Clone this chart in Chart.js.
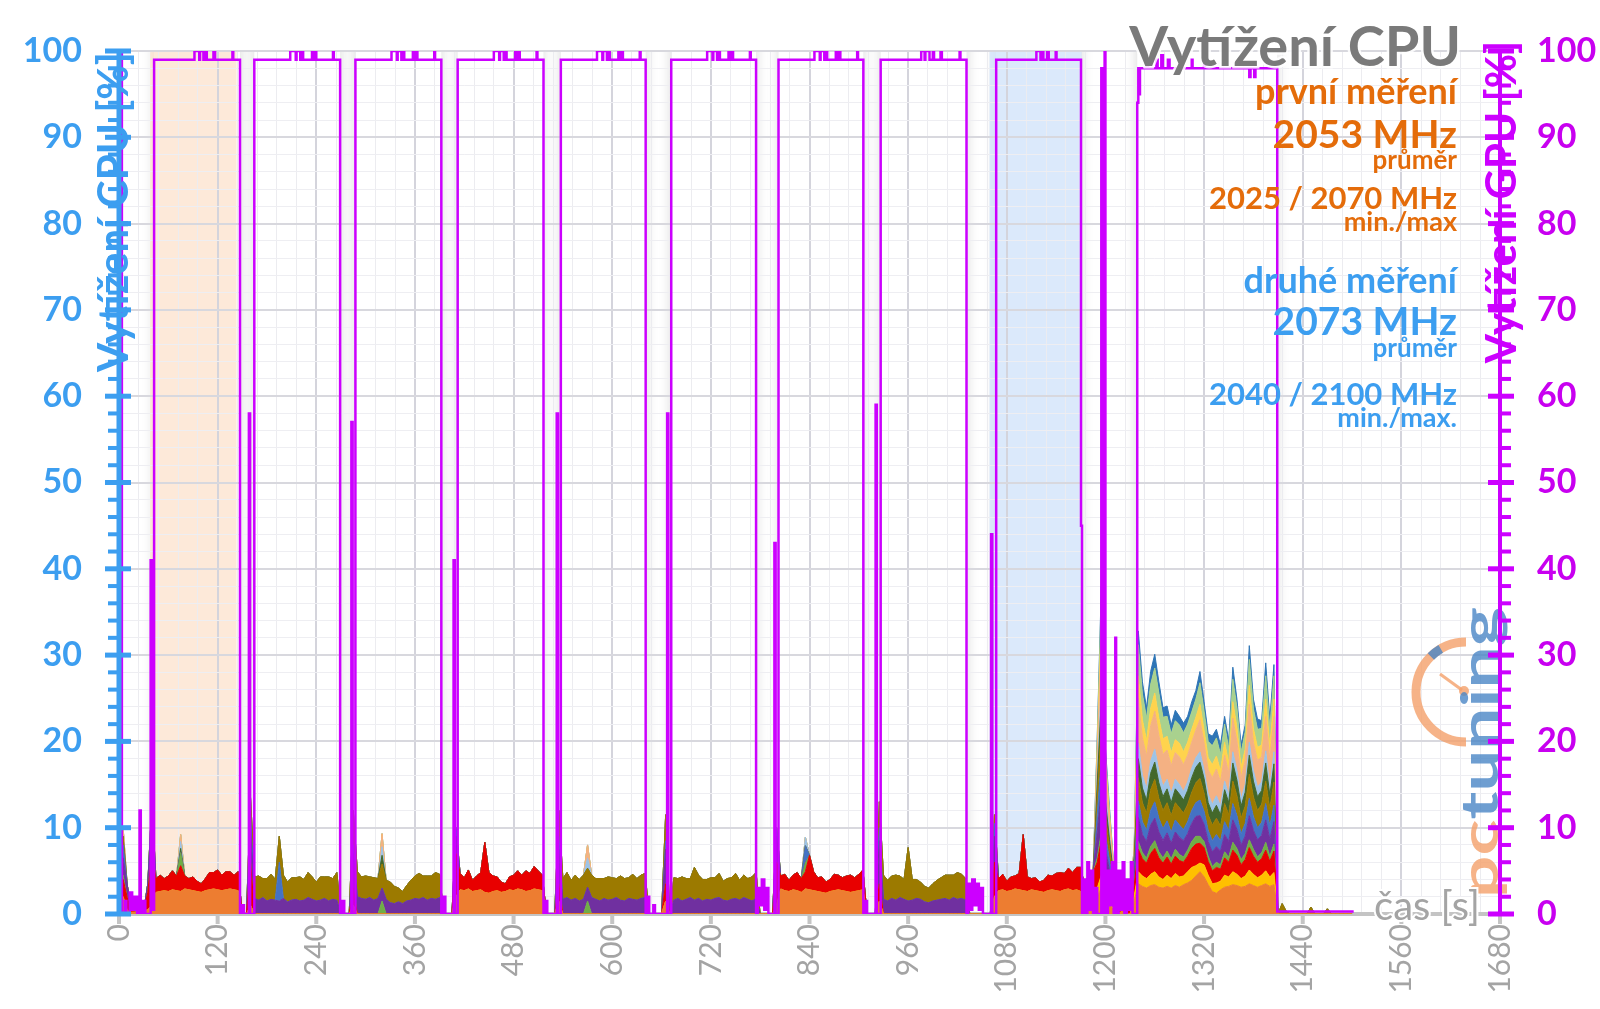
<!DOCTYPE html>
<html>
<head>
<meta charset="utf-8">
<script src="https://cdn.jsdelivr.net/npm/chart.js@4.4.1/dist/chart.umd.min.js"></script>
<style>
  html, body { margin: 0; padding: 0; background: #fff; }
  canvas { display: block; }
</style>
</head>
<body>
<canvas id="cpu-chart" width="1600" height="1009" style="width:1600px;height:1009px"></canvas>
<script>
// --- data -------------------------------------------------------------
// CPU samples every 5 s (0 .. 1500 s)
const timeGrid = [];
for (let t = 0; t <= 1500; t += 5) timeGrid.push(t);

// [start time, values...] segments, everything else is 0
const cpuOrange = [
  [0, [0.5, 2.0, 0.4, 0.2, 0.2, 0.3, 0.3, 0.5, 1.0]],
  [45, [2.5,2.6,2.7,2.6,2.8,2.7,2.6,2.9,2.8,2.7,2.6,2.5,2.7,2.8,2.9,2.8,2.7,2.8,2.9,2.8,2.7]],
  [160, [1.0]], [285, [1.0]],
  [410, [2.0, 2.8,2.7,2.9,2.6,2.7,2.8,2.5,2.4,2.6,2.7,2.5,2.6,2.8,2.7,2.9,2.8,2.6,2.7,2.9,2.8,2.7]],
  [535, [1.5]], [665, [1.5]],
  [800, [1.0, 2.9,2.7,2.6,2.8,2.7,2.5,2.9,2.8,2.7,2.6,2.5,2.4,2.6,2.7,2.8,2.7,2.6,2.5,2.6,2.7,2.8]],
  [925, [1.5]],
  [1065, [2.0, 2.7,2.8,2.6,2.7,2.9,2.8,2.7,2.6,2.8,2.7,2.6,2.5,2.7,2.8,2.7,2.6,2.8,2.9,2.7,2.8,2.6]],
  [1175, [0.5,0.3,0.8,2.0,3.0,1.5,1.0,0.5,0,0.3,0,0,1.5]],
  [1240, [3.5,3.2,3.0,3.3,3.4,3.1,3.0,3.2,3.0,3.3,3.1,3.4,3.6,3.9,4.4,4.9,4.3,3.4,2.6,2.4,2.8,3.1,3.2,3.4,3.3,3.1,3.2,3.5,3.3,3.1,3.3,3.5,3.2,3.4]]
];
const cpuYellow = [
  [1175, [0,0,0.5,1.0,1.5,0.8,0.5,0,0,0,0,0,0.6]],
  [1240, [1.4,1.2,1.1,1.3,1.5,1.2,1.0,1.3,1.1,1.4,1.2,1.0,1.3,1.5,1.2,1.0,1.4,1.1,0.9,1.2,1.0,1.4,1.1,1.5,1.3,1.0,1.2,1.6,1.3,1.1,1.2,1.5,1.1,1.4]]
];
const cpuRed = [
  [0, [0.5, 2.0, 1.5, 0.2, 0, 0.2, 0, 2.0, 6.0]],
  [45, [1.6,1.9,1.4,1.8,2.2,1.7,3.0,1.5,1.3,1.6,1.2,1.0,1.4,2.0,1.9,2.3,1.8,2.1,2.0,1.7,2.2]],
  [160, [5.0]], [285, [2.0]],
  [410, [5.0, 1.9,1.5,2.2,1.3,1.7,2.0,5.8,2.4,1.8,1.6,1.2,0.9,1.5,1.8,2.1,1.7,2.4,2.0,2.6,2.2,1.8]],
  [535, [2.0]], [665, [2.0]],
  [800, [5.0, 1.5,1.9,1.3,1.7,2.1,1.6,2.0,4.0,2.2,1.6,1.8,1.3,1.4,1.9,1.7,1.5,1.8,2.0,1.6,1.9,2.3]],
  [925, [2.0]],
  [1065, [4.0, 1.4,1.8,1.2,1.6,1.5,1.9,6.5,1.7,1.3,1.5,1.1,1.4,1.8,1.6,2.0,2.2,1.9,2.4,2.1,2.6,2.8]],
  [1175, [2.5,1.5,3.5,3.0,4.0,2.2,1.5,1.0,0.6,1.0,0.4,0.6,1.2]],
  [1240, [2.6,2.0,1.8,2.4,2.7,2.2,1.9,2.1,1.7,2.0,1.9,1.6,1.8,2.2,2.5,2.3,2.0,1.6,1.5,1.8,1.4,2.0,1.7,2.5,2.2,1.6,1.9,2.6,2.1,1.8,1.9,2.4,1.8,2.5]]
];
const cpuGreen = [
  [5, [0.5]], [40, [0.5]], [75, [1.5]], [320, [1.5]], [570, [1.5]], [835, [1.0]],
  [1175, [0,0,0,0.5,1.0,0.5,0.4,0,0,0,0,0,0]],
  [1240, [0.9,0.7,0.6,0.8,0.9,0.7,0.6,0.7,0.6,0.8,0.7,0.6,0.7,0.8,0.9,0.8,0.7,0.6,0.5,0.6,0.5,0.7,0.6,0.9,0.8,0.6,0.7,0.9,0.8,0.6,0.7,0.9,0.6,0.8]]
];
const cpuPurple = [
  [0, [0, 2.0, 1.5, 0, 0, 0, 0, 1.0, 4.0]],
  [160, [4.0, 1.8,1.6,1.9,1.5,1.7,1.6,1.5,1.8,1.4,1.6,1.7,1.5,1.6,1.9,1.7,1.5,1.6,1.8,1.5,1.7,1.6]],
  [285, [4.0, 2.0,1.8,1.7,1.9,1.6,1.8,1.5,1.7,1.3,1.2,1.4,1.2,1.5,1.6,1.8,1.7,1.9,1.6,1.8,1.7,1.9]],
  [410, [2.0]],
  [535, [4.0, 1.7,1.9,1.6,1.8,1.5,1.7,1.6,1.9,1.7,1.5,1.8,1.6,1.7,1.9,1.6,1.5,1.8,1.7,1.6,1.8,1.9]],
  [665, [4.0]],
  [675, [1.6,1.8,1.5,1.7,1.9,1.6,1.8,1.5,1.7,1.6,1.8,1.9,1.6,1.5,1.7,1.8,1.6,1.9,1.7,1.5,1.8]],
  [800, [3.0]],
  [925, [5.0, 1.7,1.5,1.8,1.6,1.9,1.7,1.5,1.6,1.8,1.7,1.4,1.3,1.5,1.6,1.7,1.8,1.6,1.9,1.7,1.8,1.6]],
  [1065, [3.0]],
  [1175, [0,1.0,0,3.0,5.0,2.5,1.6,0.9,0.5,0.6,0.3,0.5,1.0]],
  [1240, [2.8,2.1,1.9,2.5,2.6,2.3,2.0,2.1,1.8,2.0,2.0,1.9,1.9,2.1,2.3,2.4,2.0,1.7,1.7,1.8,1.6,2.0,1.8,2.6,2.2,1.7,2.0,2.8,2.2,2.0,2.0,2.6,2.0,2.6]]
];
const cpuBlue = [
  [5, [1.5]], [40, [1.5]], [160, [1.5]], [195, [4.5]], [285, [1.0]], [410, [1.0]],
  [535, [1.5]], [665, [1.0]], [800, [1.0]], [835, [2.0]], [925, [1.5]], [1065, [1.5]],
  [1175, [0,0,0,2.0,3.5,1.8,1.2,0.7,0,0,0,0,0.7]],
  [1240, [1.9,1.5,1.3,1.7,1.9,1.6,1.4,1.4,1.3,1.4,1.4,1.3,1.4,1.5,1.6,1.8,1.5,1.3,1.3,1.4,1.2,1.5,1.3,1.9,1.6,1.3,1.5,2.0,1.6,1.4,1.5,1.9,1.5,1.9]]
];
const cpuOlive = [
  [5, [1.0]],
  [160, [2.0, 2.5,2.8,2.2,2.6,2.9,2.4,3.0,2.7,2.3,2.6,2.5,2.8,2.4,2.9,2.6,2.2,2.7,2.5,2.8,2.4,3.2]],
  [285, [4.0, 2.9,2.5,2.7,2.4,2.6,2.3,2.8,2.2,2.4,2.0,1.6,1.4,1.8,2.3,2.6,3.0,2.5,2.8,2.6,3.1,2.7]],
  [535, [3.0, 2.4,2.9,2.3,2.7,2.5,2.8,2.2,2.6,2.4,2.6,2.3,2.7,2.5,2.2,2.8,2.6,2.4,2.9,2.5,2.7,2.8]],
  [665, [3.0]],
  [675, [2.6,2.3,2.8,2.4,2.2,3.8,2.7,2.5,2.3,2.6,2.4,2.8,2.2,2.6,2.5,2.9,2.3,2.6,2.4,2.8,3.0]],
  [925, [3.0, 2.8,2.4,2.6,2.9,2.5,2.3,6.2,2.4,2.2,2.0,1.8,1.7,2.0,2.3,2.5,2.7,2.9,2.6,3.1,2.8,2.5]],
  [1065, [1.0]],
  [1175, [0,0,0,2.0,4.0,2.2,1.4,0.8,0.4,0.6,0,0.5,1.0]],
  [1240, [2.7,2.2,2.0,2.4,2.6,2.3,2.1,2.1,1.9,2.0,2.0,1.9,2.0,2.1,2.3,2.5,2.1,1.8,1.8,1.9,1.7,2.1,1.8,2.6,2.3,1.8,2.0,2.8,2.3,2.0,2.1,2.6,2.0,2.7]],
  [1415, [1.2, 0.3]], [1450, [0.8]], [1470, [0.6]]
];
const cpuDarkGreen = [
  [75, [0.5]], [320, [1.0]],
  [1175, [0,0,0,1.5,3.0,1.6,1.0,0.6,0,0,0,0,0.7]],
  [1240, [2.2,1.7,1.5,1.9,2.0,1.8,1.6,1.6,1.5,1.6,1.6,1.5,1.6,1.7,1.8,1.9,1.7,1.4,1.4,1.5,1.3,1.6,1.4,2.1,1.8,1.4,1.6,2.2,1.8,1.6,1.6,2.1,1.6,2.1]]
];
const cpuLightBlue = [
  [75, [0.8]], [320, [1.0]], [570, [1.2]], [835, [1.0]],
  [1175, [0,0,0,1.0,2.0,1.0,0.6,0,0,0,0,0,0]],
  [1240, [1.8,1.5,1.3,1.4,1.5,1.4,1.2,1.1,1.1,1.1,1.1,1.0,1.0,1.1,1.1,1.2,1.0,1.0,1.0,1.1,1.0,1.0,0.9,1.3,1.1,0.8,0.9,1.5,1.2,1.1,1.0,1.4,1.0,1.4]]
];
const cpuSalmon = [
  [5, [1.0]], [75, [0.8]], [320, [1.5]], [570, [1.5]],
  [1175, [0,0,0,2.0,5.0,2.5,1.5,0.8,0.3,0.4,0,0.4,1.0]],
  [1240, [5.2,4.3,3.8,4.1,4.4,4.1,3.7,3.4,3.2,3.1,3.2,3.1,3.1,3.0,3.2,3.7,3.1,2.8,3.1,3.1,2.8,3.0,2.5,3.9,3.4,2.5,2.8,4.4,3.3,3.1,2.9,4.0,3.1,4.1]]
];
const cpuGold = [
  [1175, [0,0,0,1.0,2.0,1.0,0.6,0,0,0,0,0,0]],
  [1240, [2.6,2.1,1.8,2.0,2.1,2.0,1.8,1.6,1.5,1.5,1.6,1.5,1.5,1.5,1.5,1.8,1.5,1.4,1.5,1.5,1.3,1.5,1.2,1.9,1.6,1.2,1.3,2.2,1.6,1.5,1.4,2.0,1.5,2.0]]
];
const cpuLightGreen = [
  [1175, [0,0,0,1.0,3.0,1.2,0.6,0.4,0,0,0,0,0]],
  [1240, [3.6,3.0,2.6,2.8,2.9,2.9,2.5,2.3,2.2,2.2,2.1,2.2,2.1,2.0,2.1,2.5,2.2,1.9,2.2,2.1,1.9,2.1,1.6,2.6,2.3,1.7,2.0,3.0,2.3,2.1,1.9,2.7,2.1,2.7]]
];
const cpuSteelBlue = [
  [1175, [0,0,0,0.5,1.0,0.5,0.3,0,0,0,0,0,0]],
  [1240, [1.6,1.4,1.2,1.5,1.6,1.3,1.1,1.2,1.0,1.2,1.0,1.1,0.9,1.2,1.0,1.3,1.1,0.9,1.1,1.0,1.1,0.9,1.0,1.4,1.0,0.9,0.8,1.6,1.1,1.2,0.9,1.5,1.1,1.3]]
];

// GPU load: [time s, value %] – value holds until the next point
const gpuLoad = [
  [0,100],[3.5,0],[7,1.5],[9,0],[13,2.5],[16,0.5],[19,2],[22,0],[25,12],[26.5,0],[29,1.5],[32,0],[38.5,41],[40,0.5],
  [42.7,99],[91.8,100],[97.6,99],[98.6,100],[102.7,99],[104.8,100],[106.8,99],[114.9,100],[116.9,99],[138,100],[139,99],[147.2,0],
  [150,1],[152,0],[158,58],[159.5,0],
  [164.6,99],[208.3,100],[215,99],[216,100],[220.5,99],[222.6,100],[224,99],[234.8,100],[236,99],[238.8,100],[240,99],[260.3,100],[261.3,99],[269,0],
  [272,1.5],[274,0],[282.7,57],[284.2,0],
  [287.6,99],[331.5,100],[338,99],[339,100],[343.5,99],[345.5,100],[347,99],[357.5,100],[359,99],[361.5,100],[363,99],[383.5,100],[384.5,99],[392.1,0],
  [395,2],[397,0],[407,41],[408.5,0],
  [412,99],[456,100],[462.5,99],[463.5,100],[468,99],[470,100],[471.5,99],[482,100],[483.5,99],[486,100],[487.5,99],[508,100],[509,99],[516.4,0],
  [519,1.5],[521,0],[532.5,58],[534,0],
  [537.5,99],[581.5,100],[588,99],[589,100],[593.5,99],[595.5,100],[597,99],[607.5,100],[609,99],[611.5,100],[613,99],[633.5,100],[634.5,99],[640.7,0],
  [643,2],[645,0],[650,1],[652,0],[666.8,58],[668.3,0],
  [671.8,99],[715.5,100],[722,99],[723,100],[727.5,99],[729.5,100],[731,99],[741.5,100],[743,99],[745.5,100],[747,99],[767.5,100],[768.5,99],[775,0],
  [777,3],[780,1],[782,4],[785,0.5],[787,3],[790,0],[797.3,43],[798.8,0],
  [802.3,99],[846,100],[852.5,99],[853.5,100],[858,99],[860,100],[861.5,99],[872,100],[873.5,99],[876,100],[877.5,99],[898,100],[899,99],[905.5,0],
  [908,1.5],[910,0],[920.4,59],[921.9,0],
  [926.6,99],[975.9,100],[980,99],[981,100],[986,99],[990,100],[991.5,99],[999.4,100],[1001,99],[1022.6,100],[1023.6,99],[1031,0],
  [1033,3.5],[1036,0.5],[1038,4],[1041,1],[1043,3.5],[1046,0.5],[1048,3],[1051,0],[1060.9,44],[1062.4,0],
  [1067.1,99],[1116,100],[1121,99],[1122,100],[1124.5,99],[1129,100],[1131,99],[1139.5,100],[1140.5,99],[1170.3,45],[1171.5,0],
  [1174,4],[1176,0],[1178,6],[1180,0.5],[1183,5],[1185,0],[1188,3],[1190,0],[1195,98],[1196,0],[1199,100],[1200,0],
  [1203,5],[1205,1],[1208,6],[1210,0],[1212,32],[1213,0],[1216,5],[1218,0.5],[1221,6],[1223,0],[1226,4],[1228,0.5],[1231,6],[1233,0],
  [1238.7,94],[1240,98],[1241,95],[1242,98],[1250,99],[1252,98],[1262,99],[1263.5,98],[1268,99.5],[1270,98],[1276,99],[1278,98],
  [1290,99],[1291.5,98],[1305,99],[1306,98],[1320,99],[1321,98],[1375,97],[1376.5,98],[1381,97],[1382.5,98],
  [1409,0.3],[1502,0.3]
];

// GPU busy intervals (s) and the two highlighted measurement runs
const busyFrom = [42.7, 164.6, 287.6, 412, 537.5, 671.8, 802.3, 926.6, 1067.1, 1238.7];
const busyTo = [147.2, 269, 392.1, 516.4, 640.7, 775, 905.5, 1031, 1170.3, 1409];
const firstRun = [38, 143];
const secondRun = [1059, 1171];

// texts
const chartTitle = 'Vytížení CPU';
const cpuAxisTitle = 'Vytížení CPU [%]';
const gpuAxisTitle = 'Vytížení GPU [%]';
const timeAxisTitle = 'čas [s]';
const firstNotes = ['první měření', '2053 MHz', 'průměr', '2025 / 2070 MHz', 'min./max'];
const secondNotes = ['druhé měření', '2073 MHz', 'průměr', '2040 / 2100 MHz', 'min./max.'];

// --- colours ------------------------------------------------------------
const BLUE = '#3c9ef0';
const MAGENTA = '#cc00ff';
const ORANGE_TXT = '#e46c0a';
const GREY = '#a4a4a4';

function fromSegments(segments) {
  const out = timeGrid.map(() => 0);
  segments.forEach(([start, values]) => {
    values.forEach((v, k) => { out[start / 5 + k] = v; });
  });
  return out;
}

const cpuSeries = [
  { label: 'vlákno 1', segs: cpuOrange, color: '#ed7d31' },
  { label: 'vlákno 2', segs: cpuYellow, color: '#ffc000' },
  { label: 'vlákno 3', segs: cpuRed, color: '#e80000' },
  { label: 'vlákno 4', segs: cpuGreen, color: '#70ad47' },
  { label: 'vlákno 5', segs: cpuPurple, color: '#7030a0' },
  { label: 'vlákno 6', segs: cpuBlue, color: '#4472c4' },
  { label: 'vlákno 7', segs: cpuOlive, color: '#9c7a00' },
  { label: 'vlákno 8', segs: cpuDarkGreen, color: '#43682b' },
  { label: 'vlákno 9', segs: cpuLightBlue, color: '#9dc3e6' },
  { label: 'vlákno 10', segs: cpuSalmon, color: '#f4b183' },
  { label: 'vlákno 11', segs: cpuGold, color: '#ffd34d' },
  { label: 'vlákno 12', segs: cpuLightGreen, color: '#a9d18e' },
  { label: 'vlákno 13', segs: cpuSteelBlue, color: '#2e75b6' }
];

const datasets = cpuSeries.map((s, i) => ({
  label: s.label,
  data: fromSegments(s.segs),
  yAxisID: 'y',
  backgroundColor: s.color,
  borderColor: s.color,
  borderWidth: 1,
  pointRadius: 0,
  tension: 0,
  fill: i === 0 ? 'origin' : '-1'
}));
datasets.push({
  label: 'GPU',
  data: gpuLoad.map(([x, y]) => ({ x, y })),
  yAxisID: 'y2',
  borderColor: MAGENTA,
  borderWidth: 2.5,
  pointRadius: 0,
  stepped: true,
  fill: false,
  order: -1
});

// --- drawing helpers ------------------------------------------------------
const decorations = {
  id: 'decorations',
  beforeDraw(chart) {
    const { ctx, chartArea: a, scales: { x } } = chart;
    ctx.save();
    ctx.fillStyle = '#fff';
    ctx.fillRect(0, 0, chart.width, chart.height);
    ctx.beginPath();
    ctx.rect(a.left, a.top, a.right - a.left, a.bottom - a.top);
    ctx.clip();
    // soft shadowed boxes behind the GPU busy periods
    ctx.shadowColor = 'rgba(0,0,0,0.16)';
    ctx.shadowBlur = 12;
    ctx.fillStyle = '#fff';
    busyFrom.forEach((t0, i) => {
      const x0 = x.getPixelForValue(t0), x1 = x.getPixelForValue(busyTo[i]);
      ctx.fillRect(x0, a.top - 30, x1 - x0, a.bottom - a.top + 60);
    });
    ctx.shadowColor = 'transparent';
    ctx.fillStyle = 'rgba(252,226,204,0.75)';
    let x0 = x.getPixelForValue(firstRun[0]);
    ctx.fillRect(x0, a.top, x.getPixelForValue(firstRun[1]) - x0, a.bottom - a.top);
    ctx.fillStyle = 'rgba(210,228,250,0.8)';
    x0 = x.getPixelForValue(secondRun[0]);
    ctx.fillRect(x0, a.top, x.getPixelForValue(secondRun[1]) - x0, a.bottom - a.top);
    ctx.restore();
  },
  beforeDatasetsDraw(chart) {
    const { ctx, chartArea: a, scales: { x } } = chart;
    ctx.save();
    ctx.fillStyle = '#c4c4c4';
    ctx.fillRect(a.left, a.bottom - 2, a.right - a.left, 4);
    for (let t = 0; t <= 1680; t += 120) {
      const px = x.getPixelForValue(t);
      ctx.fillRect(px - 2, a.bottom + 2, 4, 8);
    }
    ctx.restore();
  },
  afterDatasetsDraw(chart) {
    const { ctx, chartArea: a, scales: { y, y2 } } = chart;
    ctx.save();

    // pctuning logo
    ctx.globalAlpha = 0.8;
    ctx.strokeStyle = '#f4a06a';
    ctx.lineWidth = 9;
    ctx.beginPath();
    ctx.arc(1466, 692, 50, -Math.PI / 2, Math.PI / 2, true);
    ctx.stroke();
    ctx.strokeStyle = '#4a86c5';
    ctx.beginPath();
    ctx.arc(1466, 692, 50, -2.35, -2.1);
    ctx.stroke();
    ctx.strokeStyle = '#f4a06a';
    ctx.lineWidth = 3;
    ctx.beginPath();
    ctx.moveTo(1462, 690);
    ctx.lineTo(1440, 674);
    ctx.stroke();
    ctx.fillStyle = '#f4a06a';
    ctx.beginPath();
    ctx.arc(1464, 691, 5, 0, Math.PI * 2);
    ctx.fill();
    ctx.save();
    ctx.translate(1498, 898);
    ctx.rotate(-Math.PI / 2);
    ctx.font = 'bold 52px Lato';
    const w = ctx.measureText('pctuning').width;
    ctx.scale(291 / w, 1);
    ctx.textBaseline = 'alphabetic';
    ctx.fillStyle = '#f4a06a';
    ctx.fillText('pc', 0, 0);
    ctx.fillStyle = '#4a86c5';
    ctx.fillText('tuning', ctx.measureText('pc').width, 0);
    ctx.restore();
    ctx.globalAlpha = 1;

    // left (CPU) axis
    ctx.fillStyle = BLUE;
    ctx.fillRect(a.left - 2.5, a.top, 5, a.bottom - a.top + 2);
    for (let v = 0; v <= 100; v += 2) {
      const py = y.getPixelForValue(v);
      if (v % 10 === 0) ctx.fillRect(a.left - 14, py - 2.5, 26, 5);
      else ctx.fillRect(a.left - 11, py - 2, 11, 4);
    }
    // right (GPU) axis
    ctx.fillStyle = MAGENTA;
    ctx.fillRect(a.right - 2, a.top, 4, a.bottom - a.top + 2);
    for (let v = 0; v <= 100; v += 2) {
      const py = y2.getPixelForValue(v);
      if (v % 10 === 0) ctx.fillRect(a.right - 12, py - 2.5, 26, 5);
      else ctx.fillRect(a.right, py - 2, 11, 4);
    }

    // axis titles
    ctx.textAlign = 'center';
    ctx.textBaseline = 'middle';
    ctx.font = 'bold 42px Lato';
    ctx.save();
    ctx.translate(114, 212);
    ctx.rotate(-Math.PI / 2);
    ctx.fillStyle = BLUE;
    ctx.fillText(cpuAxisTitle, 0, 0);
    ctx.restore();
    ctx.save();
    ctx.translate(1502, 202);
    ctx.rotate(-Math.PI / 2);
    ctx.fillStyle = MAGENTA;
    ctx.fillText(gpuAxisTitle, 0, 0);
    ctx.restore();

    // time axis title over the axis line
    ctx.textAlign = 'right';
    ctx.font = '40px Lato';
    ctx.lineWidth = 4;
    ctx.strokeStyle = '#fff';
    ctx.strokeText(timeAxisTitle, 1480, 907);
    ctx.fillStyle = GREY;
    ctx.fillText(timeAxisTitle, 1480, 907);

    // chart title
    ctx.textBaseline = 'alphabetic';
    ctx.font = 'bold 56px Lato';
    ctx.lineWidth = 5;
    ctx.strokeStyle = 'rgba(255,255,255,0.85)';
    ctx.strokeText(chartTitle, 1461, 66);
    ctx.fillStyle = '#7a7a7a';
    ctx.fillText(chartTitle, 1461, 66);

    // measurement notes
    const fonts = ['bold 36px Lato', 'bold 39px Lato', 'bold 26px Lato', 'bold 31px Lato', 'bold 27px Lato'];
    const firstY = [92, 135, 161, 199, 222];
    const secondY = [281, 322, 349, 395, 418];
    ctx.textBaseline = 'middle';
    firstNotes.forEach((s, i) => {
      ctx.font = fonts[i];
      ctx.fillStyle = ORANGE_TXT;
      ctx.fillText(s, 1457, firstY[i]);
    });
    secondNotes.forEach((s, i) => {
      ctx.font = fonts[i];
      ctx.fillStyle = BLUE;
      ctx.fillText(s, 1457, secondY[i]);
    });
    ctx.restore();
  }
};

// keep the plot area at a fixed place: no extra label padding from the scales
function fixVertical(width) {
  return s => { s.width = width; s.paddingTop = 0; s.paddingBottom = 0; };
}

function drawChart() {
  const ctx = document.getElementById('cpu-chart').getContext('2d');
  window.chartInstance = new Chart(ctx, {
    type: 'line',
    data: { labels: timeGrid, datasets },
    options: {
      responsive: false,
      animation: false,
      devicePixelRatio: 1,
      layout: { padding: { top: 51, left: 0, right: 0, bottom: 0 } },
      plugins: { legend: { display: false }, tooltip: { enabled: false } },
      scales: {
        x: {
          type: 'linear',
          min: 0,
          max: 1680,
          afterFit: s => { s.height = 95; s.paddingLeft = 0; s.paddingRight = 0; },
          ticks: {
            stepSize: 24,
            autoSkip: false,
            minRotation: 90,
            maxRotation: 90,
            padding: 10,
            color: GREY,
            font: { family: 'Lato', size: 30 },
            callback: v => (v % 120 === 0 ? String(v) : '')
          },
          grid: {
            drawTicks: false,
            color: c => (c.tick && c.tick.value % 120 === 0 ? '#d4d4dc' : '#ececf0'),
            lineWidth: c => (c.tick && c.tick.value % 120 === 0 ? 2 : 1)
          },
          border: { display: false }
        },
        y: {
          position: 'left',
          stacked: true,
          min: 0,
          max: 100,
          afterFit: fixVertical(119),
          ticks: {
            stepSize: 2,
            autoSkip: false,
            padding: 37,
            color: BLUE,
            font: { family: 'Lato', size: 34, weight: 'bold' },
            callback: v => (v % 10 === 0 ? String(v) : '')
          },
          grid: {
            drawTicks: false,
            color: c => (c.tick && c.tick.value % 10 === 0 ? '#d8d8de' : '#eeeef2'),
            lineWidth: c => (c.tick && c.tick.value % 10 === 0 ? 2 : 1)
          },
          border: { display: false }
        },
        y2: {
          position: 'right',
          min: 0,
          max: 100,
          afterFit: fixVertical(100),
          ticks: {
            stepSize: 10,
            padding: 37,
            color: '#c800f0',
            font: { family: 'Lato', size: 34, weight: 'bold' }
          },
          grid: { drawOnChartArea: false, drawTicks: false },
          border: { display: false }
        }
      }
    },
    plugins: [decorations]
  });
}

Promise.all([
  document.fonts.load('bold 40px Lato'),
  document.fonts.load('30px Lato')
]).then(drawChart, drawChart);
</script>
</body>
</html>
